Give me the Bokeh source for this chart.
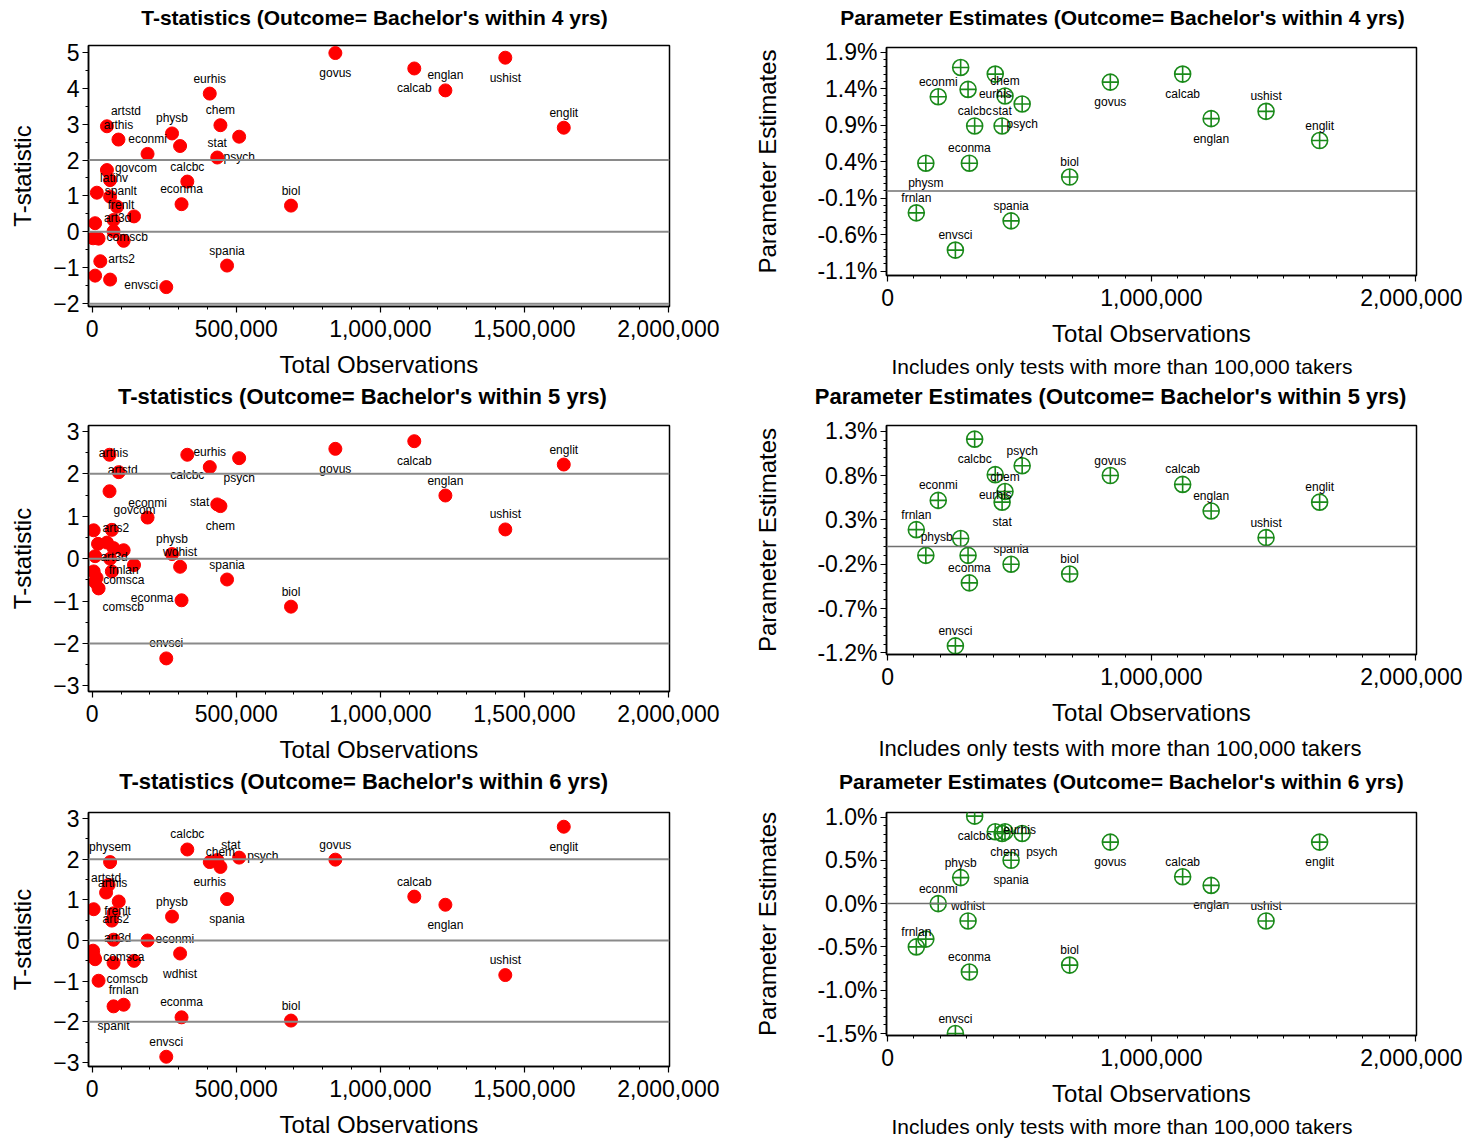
from bokeh.plotting import figure
from bokeh.layouts import row, column
from bokeh.models import (ColumnDataSource, FixedTicker, NumeralTickFormatter,
                          BasicTickFormatter, Span, Title, LinearAxis, Range1d)
from bokeh.embed import file_html
from bokeh.resources import INLINE
from bokeh.core.properties import value

FONT = "Liberation Sans"

# ---------------- data ----------------
BIG_TESTS = ["govus", "calcab", "englan", "ushist", "englit", "biol", "psych",
             "spania", "chem", "stat", "eurhis", "calcbc", "econma", "wdhist",
             "physb", "envsci", "econmi", "physm", "frnlan"]
BIG_OBS = [844000, 1118000, 1226000, 1434000, 1637000, 690000, 510000,
           468000, 445000, 434000, 408000, 330000, 310000, 305000,
           277000, 257000, 192000, 145000, 109000]

# T-statistics, 4 yrs
T4_BIG = [4.98, 4.55, 3.94, 4.85, 2.90, 0.73, 2.65, -0.94, 2.97, 2.07, 3.85,
          1.40, 0.77, 2.39, 2.74, -1.54, 2.17, 0.43, -0.25]
T4_SMALL_TESTS = ["artstd", "arthis", "govcom", "latinv", "spanlt", "germla",
                  "frenlt", "art3d", "musthy", "comsca", "latlit", "comscb",
                  "arts2", "humgeo", "physem"]
T4_SMALL_OBS = [51000, 91000, 51000, 62000, 16000, 62000, 86000, 74000,
                10000, 74000, 3000, 22000, 28000, 10000, 62000]
T4_SMALL = [2.94, 2.57, 1.72, 1.44, 1.09, 0.98, 0.70, 0.33, 0.24, 0.01,
            -0.18, -0.19, -0.82, -1.22, -1.33]

# T-statistics, 5 yrs
T5_BIG = [2.59, 2.77, 1.49, 0.69, 2.22, -1.13, 2.37, -0.49, 1.24, 1.28, 2.16,
          2.45, -0.98, -0.19, 0.11, -2.35, 0.97, -0.15, 0.20]
T5_SMALL_TESTS = ["arthis", "artstd", "govcom", "latinv", "arts2", "germla",
                  "musthy", "humgeo", "art3d", "latlit", "spanlt", "comsca",
                  "comscb", "frenlt", "physem"]
T5_SMALL_OBS = [60000, 92000, 60000, 5000, 68000, 51000, 74000, 10000,
                62000, 5000, 68000, 10000, 22000, 20000, 15000]
T5_SMALL = [2.45, 2.04, 1.59, 0.67, 0.68, 0.38, 0.25, 0.06, 0.00, -0.30,
            -0.30, -0.55, -0.70, 0.35, -0.45]

# T-statistics, 6 yrs
T6_BIG = [1.99, 1.08, 0.88, -0.85, 2.80, -1.97, 2.04, 1.02, 1.81, 1.98, 1.93,
          2.24, -1.89, -0.32, 0.59, -2.86, 0.00, -0.50, -1.58]
T6_SMALL_TESTS = ["physem", "arthis", "artstd", "germla", "latinv", "frenlt",
                  "arts2", "art3d", "musthy", "comsca", "humgeo", "latlit",
                  "comscb", "spanlt"]
T6_SMALL_OBS = [62000, 57000, 48000, 92000, 5000, 74000, 68000, 74000,
                5000, 10000, 74000, 3000, 22000, 74000]
T6_SMALL = [1.93, 1.37, 1.18, 0.96, 0.77, 0.67, 0.49, 0.02, -0.38, -0.46,
            -0.55, -0.25, -0.99, -1.62]

# Parameter estimates (percent), tests with more than 100,000 takers
E4_PCT = [1.49, 1.60, 0.99, 1.09, 0.69, 0.19, 1.19, -0.41, 1.30, 0.89, 1.60,
          0.89, 0.38, 1.39, 1.69, -0.81, 1.29, 0.38, -0.30]
E5_PCT = [0.80, 0.70, 0.40, 0.10, 0.50, -0.31, 0.91, -0.20, 0.62, 0.50, 0.81,
          1.21, -0.41, -0.10, 0.09, -1.12, 0.52, -0.10, 0.19]
E6_PCT = [0.71, 0.31, 0.21, -0.20, 0.71, -0.71, 0.81, 0.50, 0.83, 0.81, 0.83,
          1.01, -0.79, -0.20, 0.30, -1.50, 0.00, -0.41, -0.50]

LEFT_X_TICKS = [0, 500000, 1000000, 1500000, 2000000]
RIGHT_X_TICKS = [0, 1000000, 2000000]
T4_Y_TICKS = [-2, -1, 0, 1, 2, 3, 4, 5]
T56_Y_TICKS = [-3, -2, -1, 0, 1, 2, 3]
E4_Y_TICKS = [-1.1, -0.6, -0.1, 0.4, 0.9, 1.4, 1.9]
E5_Y_TICKS = [-1.2, -0.7, -0.2, 0.3, 0.8, 1.3]
E6_Y_TICKS = [-1.5, -1.0, -0.5, 0.0, 0.5, 1.0]
T_REFS = [-2, 0, 2]

TITLES_T = ["T-statistics (Outcome= Bachelor's within 4 yrs)",
            "T-statistics (Outcome= Bachelor's within 5 yrs)",
            "T-statistics (Outcome= Bachelor's within 6 yrs)"]
TITLES_E = ["Parameter Estimates (Outcome= Bachelor's within 4 yrs)",
            "Parameter Estimates (Outcome= Bachelor's within 5 yrs)",
            "Parameter Estimates (Outcome= Bachelor's within 6 yrs)"]
NOTE = "Includes only tests with more than 100,000 takers"

# ---------------- label placement (layout) ----------------
T4_BIG_LBL = ["b", "b", "a", "b", "a", "a", "b", "a", "a", "a", "a", "a", "a",
              "n", "a", "l", "a", "n", "n"]
T4_SMALL_LBL = ["ar", "a", "r", "c", "r", "n", "c", "c", "n", "n", "n", "r",
                "r", "n", "n"]
T5_BIG_LBL = ["b", "b", "a", "a", "a", "a", "b", "a", "b", "l", "a", "b", "l",
              "a", "a", "a", "a", "n", "b"]
T5_SMALL_LBL = ["c", "c", "br", "n", "c", "n", "n", "n", "c", "n", "n", "r",
                "br", "n", "n"]
T6_BIG_LBL = ["a", "a", "b", "a", "b", "a", "r", "b", "a", "ar", "b", "a", "a",
              "b", "a", "a", "r", "n", "a"]
T6_SMALL_LBL = ["a", "c", "a", "n", "n", "c", "c", "c", "n", "r", "n", "n",
                "r", "b"]
E4_LBL = ["b", "b", "b", "a", "a", "a", "b", "a", "a", "a", "b", "a", "a",
          "n", "n", "a", "a", "b", "a"]
E5_LBL = ["a", "a", "a", "a", "a", "a", "a", "a", "a", "b", "b", "b", "a",
          "n", "l", "a", "a", "n", "a"]
E6_LBL = ["b", "a", "b", "a", "b", "a", "br", "b", "b", "n", "r", "b", "a",
          "a", "a", "a", "a", "n", "a"]

LABEL_POS = {"a": (0, -15, "center"), "b": (0, 20, "center"),
             "r": (8, -2, "left"), "l": (-8, -2, "right"),
             "ar": (4, -15, "left"), "br": (4, 19, "left"),
             "c": (4, -2, "center")}


def frange(a, b, step):
    out, v = [], a
    while v <= b + 1e-9:
        out.append(round(v, 6))
        v += step
    return out


def make_fig(width, height, mb, xr, yr, title, t_size, t_center, t_gap):
    p = figure(width=width, height=height, x_range=Range1d(*xr),
               y_range=Range1d(*yr), output_backend="svg",
               toolbar_location=None,
               min_border_left=mb[0], min_border_right=mb[1],
               min_border_top=mb[2], min_border_bottom=mb[3])
    xax = p.below[0]
    yax = p.left[0]
    p.xgrid.visible = False
    p.ygrid.visible = False
    p.outline_line_color = "black"
    p.outline_line_width = 1.5
    p.outline_line_alpha = 1.0
    # panel title: drawn as the single label of an otherwise empty top axis
    top = LinearAxis(ticker=FixedTicker(ticks=[t_center], minor_ticks=[]),
                     major_label_overrides={t_center: title},
                     axis_line_color=None, major_tick_line_color=None,
                     minor_tick_line_color=None, major_tick_out=0,
                     major_tick_in=0, minor_tick_out=0,
                     major_label_standoff=t_gap,
                     major_label_text_font=FONT,
                     major_label_text_font_size=t_size,
                     major_label_text_font_style="bold",
                     major_label_text_color="black")
    p.add_layout(top, "above")
    return p, xax, yax


def style_axis(ax, ticks, minor, fmt, label, label_standoff, tick_standoff):
    ax.ticker = FixedTicker(ticks=ticks, minor_ticks=minor)
    ax.formatter = fmt
    ax.axis_label = label
    ax.axis_label_text_font = FONT
    ax.axis_label_text_font_size = "24px"
    ax.axis_label_text_font_style = "normal"
    ax.axis_label_text_color = "black"
    ax.axis_label_standoff = label_standoff
    ax.major_label_text_font = FONT
    ax.major_label_text_font_size = "23px"
    ax.major_label_text_color = "black"
    ax.major_label_standoff = tick_standoff
    ax.major_tick_out = 6
    ax.major_tick_in = 0
    ax.minor_tick_out = 3
    ax.minor_tick_in = 0
    ax.axis_line_width = 1.5
    ax.major_tick_line_width = 1.2
    ax.major_label_orientation = "horizontal"


def add_labels(p, names, xs, ys, codes):
    for code, (dx, dy, align) in LABEL_POS.items():
        idx = [i for i, c in enumerate(codes) if c == code]
        if not idx:
            continue
        src = ColumnDataSource(dict(x=[xs[i] for i in idx],
                                    y=[ys[i] for i in idx],
                                    t=[names[i] for i in idx]))
        p.text(x="x", y="y", text="t", source=src, x_offset=dx, y_offset=dy,
               text_align=align, text_baseline="middle",
               text_font=value(FONT), text_font_size="12px",
               text_color="black")


def left_panel(title, t_size, t_center, t_gap, vals_big, lbl_big, s_names,
               s_obs, s_vals, s_lbl, yr, yticks, height, mb_top, mb_bottom):
    p, xax, yax = make_fig(748, height, (88, 79, mb_top, mb_bottom),
                           (-13000, 2004000), yr, title, t_size, t_center,
                           t_gap)
    style_axis(xax, LEFT_X_TICKS, frange(0, 2000000, 100000),
               NumeralTickFormatter(format="0,0"), "Total Observations", 11, 7)
    style_axis(yax, yticks, frange(yticks[0], yticks[-1], 0.5),
               BasicTickFormatter(), "T-statistic", 14, 3)
    for r in T_REFS:
        p.add_layout(Span(location=r, dimension="width", line_color="#8a8a8a",
                          line_width=2))
    names = BIG_TESTS + s_names
    xs = BIG_OBS + s_obs
    ys = vals_big + s_vals
    codes = lbl_big + s_lbl
    p.scatter(xs, ys, marker="circle", size=13, fill_color="#ff0000",
              line_color="#ff0000")
    add_labels(p, names, xs, ys, codes)
    return p


def right_panel(title, t_size, t_center, t_gap, note_size, note_offset,
                note_standoff, pct, lbl, yr, yticks, height, mb_top,
                mb_bottom):
    frac = [v / 100.0 for v in pct]
    yr_f = (yr[0] / 100.0, yr[1] / 100.0)
    p, xax, yax = make_fig(714, height, (138, 46, mb_top, mb_bottom),
                           (-4000, 2004000), yr_f, title, t_size, t_center,
                           t_gap)
    style_axis(xax, RIGHT_X_TICKS, frange(0, 2000000, 100000),
               NumeralTickFormatter(format="0,0"), "Total Observations", 11, 7)
    yt = [t / 100.0 for t in yticks]
    minor = [m / 100.0 for m in frange(-2.0, 2.0, 0.1)]
    style_axis(yax, yt, minor, NumeralTickFormatter(format="0.0%"),
               "Parameter Estimates", 33, 3)
    p.add_layout(Span(location=0, dimension="width", line_color="#707070",
                      line_width=1.5))
    p.scatter(BIG_OBS, frac, marker="circle_cross", size=16, fill_color=None,
              line_color="#1a8a1a", line_width=1.6)
    add_labels(p, BIG_TESTS, BIG_OBS, frac, lbl)
    p.add_layout(Title(text=NOTE, align="left", offset=note_offset,
                       text_font=FONT, text_font_size=note_size,
                       text_font_style="normal", text_color="black",
                       standoff=note_standoff), "below")
    return p


tl = left_panel(TITLES_T[0], "21px", 980000, 17, T4_BIG, T4_BIG_LBL,
                T4_SMALL_TESTS, T4_SMALL_OBS, T4_SMALL, T4_SMALL_LBL,
                (-2.08, 5.19), T4_Y_TICKS, 380, 45, 73)
ml = left_panel(TITLES_T[1], "22px", 938000, 17, T5_BIG, T5_BIG_LBL,
                T5_SMALL_TESTS, T5_SMALL_OBS, T5_SMALL, T5_SMALL_LBL,
                (-3.13, 3.14), T56_Y_TICKS, 385, 45, 73)
bl = left_panel(TITLES_T[2], "22px", 942000, 19, T6_BIG, T6_BIG_LBL,
                T6_SMALL_TESTS, T6_SMALL_OBS, T6_SMALL, T6_SMALL_LBL,
                (-3.10, 3.15), T56_Y_TICKS, 375, 47, 72)

tr = right_panel(TITLES_E[0], "21px", 890000, 19, "21px", 5, 6, E4_PCT,
                 E4_LBL, (-1.158, 1.964), E4_Y_TICKS, 380, 47, 102)
mr = right_panel(TITLES_E[1], "22px", 845000, 17, "22px", -8, 10, E5_PCT,
                 E5_LBL, (-1.217, 1.364), E5_Y_TICKS, 385, 45, 107)
br = right_panel(TITLES_E[2], "21px", 886000, 20, "21px", 5, 6, E6_PCT,
                 E6_LBL, (-1.523, 1.052), E6_Y_TICKS, 375, 47, 102)

layout = row(column(tl, ml, bl), column(tr, mr, br))

open("out.html", "w").write(file_html(layout, INLINE))
